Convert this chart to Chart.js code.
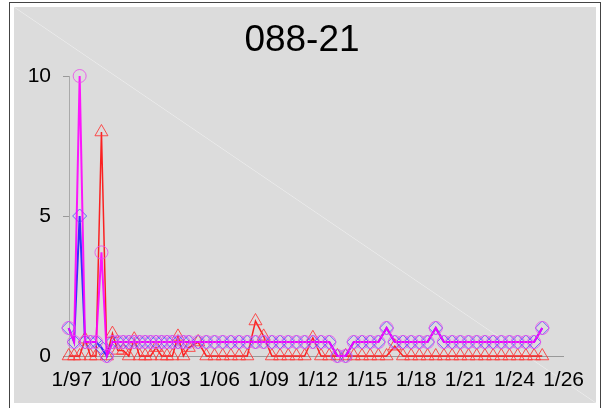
<!DOCTYPE html>
<html>
<head>
<meta charset="utf-8">
<script src="https://cdn.jsdelivr.net/npm/chart.js@4.4.1/dist/chart.umd.min.js"></script>
<style>
    body { margin: 0; background: #fff; width: 603px; height: 408px; overflow: hidden; position: relative; }
    .frame { position: absolute; left: 9px; top: 2px; width: 590px; height: 420px;
             border: 1px solid #444; border-bottom: none; }
    .panel { position: absolute; left: 14px; top: 7px; width: 582px; height: 396px;
             background: linear-gradient(to top right, #dcdcdc calc(50% - 0.7px), #eaeaea 50%, #dcdcdc calc(50% + 0.7px)); }
    .title { position: absolute; left: 0; top: 20px; width: 604px; text-align: center;
             font-family: 'Liberation Sans', Arial, sans-serif; font-size: 37px; line-height: 37px; color: #000; }
    canvas { display: block; position: absolute; left: 0; top: 0; }
</style>
</head>
<body>
<div class="frame"></div>
<div class="panel"><canvas id="chart" width="582" height="396"></canvas></div>
<div class="title">088-21</div>
<script>
// sample positions, in years after the 1/97 tick
const sampleTimes = [
    -0.2, 0.13, 0.47, 0.8, 1.13, 1.47, 1.8, 2.13, 2.47, 2.8, 3.13, 3.47,
    3.8, 4.13, 4.47, 4.8, 5.13, 5.47, 5.8, 6.13, 6.47, 6.8, 7.13,
    7.7, 8.2, 8.7, 9.2, 9.7, 10.2, 10.7, 11.2, 11.7, 12.2, 12.7, 13.2,
    13.7, 14.2, 14.7, 15.2, 15.7, 16.2, 16.7, 17.2, 17.7, 18.2, 18.7,
    19.2, 19.7, 20.2, 20.7, 21.2, 21.7, 22.2, 22.7, 23.2, 23.7, 24.2,
    24.7, 25.2, 25.7, 26.2, 26.7, 27.2, 27.7, 28.2, 28.7
];

const magentaValues = [
    1.0, 0.5, 10, 0.5, 0.5, 0.5, 3.7, 0, 0.5, 0.5, 0.5, 0.5,
    0.5, 0.5, 0.5, 0.5, 0.5, 0.5, 0.5, 0.5, 0.5, 0.5, 0.5,
    0.5, 0.5, 0.5, 0.5, 0.5, 0.5, 0.5, 0.5, 0.5, 0.5, 0.5, 0.5,
    0.5, 0.5, 0.5, 0.5, 0.5, 0, 0, 0.5, 0.5, 0.5, 0.5,
    1.0, 0.5, 0.5, 0.5, 0.5, 0.5, 1.0, 0.5, 0.5, 0.5, 0.5,
    0.5, 0.5, 0.5, 0.5, 0.5, 0.5, 0.5, 0.5, 1.0
];

const blueValues = [
    1.0, 0.5, 5, 0.5, 0.5, 0.5, 0.3, 0, 0.5, 0.5, 0.5, 0.5,
    0.5, 0.5, 0.5, 0.5, 0.5, 0.5, 0.5, 0.5, 0.5, 0.5, 0.5,
    0.5, 0.5, 0.5, 0.5, 0.5, 0.5, 0.5, 0.5, 0.5, 0.5, 0.5, 0.5,
    0.5, 0.5, 0.5, 0.5, 0.5, 0, 0, 0.5, 0.5, 0.5, 0.5,
    1.0, 0.5, 0.5, 0.5, 0.5, 0.5, 1.0, 0.5, 0.5, 0.5, 0.5,
    0.5, 0.5, 0.5, 0.5, 0.5, 0.5, 0.5, 0.5, 1.0
];

const redValues = [
    0, 0, 0, 0.6, 0, 0, 8, 0, 0.8, 0.2, 0.2, 0,
    0.6, 0, 0, 0, 0.3, 0, 0, 0, 0.7, 0, 0.3,
    0.5, 0, 0, 0, 0, 0, 0, 1.25, 0.7, 0, 0, 0,
    0, 0, 0.65, 0, 0, 0, 0, 0, 0, 0, 0,
    0, 0.35, 0, 0, 0, 0, 0, 0, 0, 0, 0,
    0, 0, 0, 0, 0, 0, 0, 0, 0
];

const xTickPositions = [0, 3, 6, 9, 12, 15, 18, 21, 24, 27, 30];
const xTickLabels = ["1/97", "1/00", "1/03", "1/06", "1/09", "1/12", "1/15", "1/18", "1/21", "1/24", "1/26"];
const yTicks = [0, 5, 10];

document.addEventListener("DOMContentLoaded", function () {
    function toPoints(values) {
        return values.map((v, i) => ({ x: sampleTimes[i], y: v }));
    }

    const font = { family: "'Liberation Sans', Arial, sans-serif", size: 21 };

    const ctx = document.getElementById("chart").getContext("2d");
    new Chart(ctx, {
        type: "line",
        data: {
            datasets: [
                {
                    label: "magenta",
                    data: toPoints(magentaValues),
                    borderColor: "rgba(255, 0, 255, 0.9)",
                    borderWidth: 2,
                    pointStyle: "circle",
                    pointRadius: 6.5,
                    pointBorderWidth: 1,
                    pointBorderColor: "rgba(235, 80, 235, 0.85)",
                    pointBackgroundColor: "rgba(0,0,0,0)",
                    tension: 0
                },
                {
                    label: "blue",
                    data: toPoints(blueValues),
                    borderColor: "rgba(30, 30, 255, 0.9)",
                    borderWidth: 2,
                    pointStyle: "rectRot",
                    pointRadius: 7,
                    pointBorderWidth: 1,
                    pointBorderColor: "rgba(80, 80, 255, 0.85)",
                    pointBackgroundColor: "rgba(0,0,0,0)",
                    tension: 0
                },
                {
                    label: "red",
                    data: toPoints(redValues),
                    borderColor: "rgba(255, 0, 0, 0.85)",
                    borderWidth: 1.5,
                    pointStyle: "triangle",
                    pointRadius: 7.5,
                    pointBorderWidth: 1,
                    pointBorderColor: "rgba(255, 50, 50, 0.85)",
                    pointBackgroundColor: "rgba(0,0,0,0)",
                    tension: 0
                }
            ]
        },
        options: {
            responsive: false,
            animation: false,
            devicePixelRatio: 1,
            clip: false,
            layout: { padding: { left: 0, right: 26, top: 69, bottom: 0 } },
            plugins: {
                legend: { display: false },
                tooltip: { enabled: false },
                title: { display: false }
            },
            scales: {
                x: {
                    type: "linear",
                    min: -0.18,
                    max: 30,
                    afterBuildTicks: function (scale) {
                        scale.ticks = xTickPositions.map(v => ({ value: v }));
                    },
                    afterFit: function (scale) { scale.height = 47; },
                    ticks: {
                        autoSkip: false,
                        maxRotation: 0,
                        color: "#000",
                        font: font,
                        padding: 12,
                        callback: function (value) {
                            const i = xTickPositions.indexOf(value);
                            return i >= 0 ? xTickLabels[i] : "";
                        }
                    },
                    grid: { drawOnChartArea: false, drawTicks: false },
                    border: { display: true, color: "#999", width: 1 }
                },
                y: {
                    min: 0,
                    max: 10,
                    afterBuildTicks: function (scale) {
                        scale.ticks = yTicks.map(v => ({ value: v }));
                    },
                    afterFit: function (scale) { scale.width = 55; },
                    ticks: { color: "#000", font: font, padding: 12 },
                    grid: { drawOnChartArea: false, drawTicks: true, tickLength: 6, color: "#999" },
                    border: { display: true, color: "#aaa", width: 1 }
                }
            }
        }
    });
});
</script>
</body>
</html>
